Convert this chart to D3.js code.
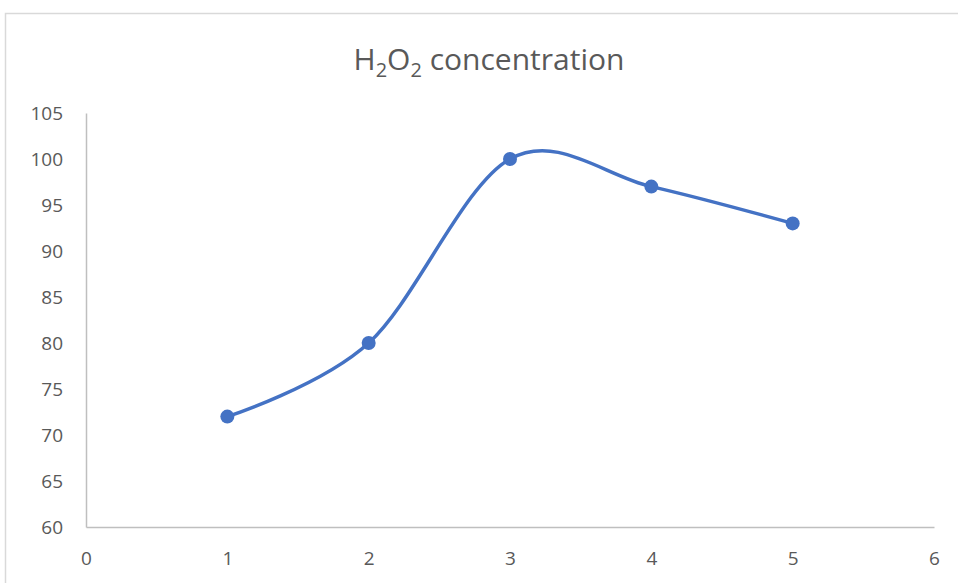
<!DOCTYPE html>
<html>
<head>
<meta charset="utf-8">
<script src="https://cdn.jsdelivr.net/npm/d3@7"></script>
<style>
  body { margin: 0; background: #fff; }
  svg { display: block; font-family: "Open Sans", "Noto Sans", sans-serif; }
</style>
</head>
<body>
<div id="canvas"></div>
<script>
const xValues = [1, 2, 3, 4, 5];
const concentration = [72, 80, 100, 97, 93];
const xTicks = [0, 1, 2, 3, 4, 5, 6];
const yTicks = [60, 65, 70, 75, 80, 85, 90, 95, 100, 105];

const width = 958;
const height = 583;
const margin = { top: 113, left: 86, bottom: 56, right: 24 };
const iwidth = width - margin.left - margin.right;
const iheight = height - margin.top - margin.bottom;

const svg = d3.select("#canvas").append("svg")
    .attr("width", width)
    .attr("height", height);

// outer chart frame (cropped on the right and bottom)
svg.append("rect")
    .attr("x", 5.5).attr("y", 13.5)
    .attr("width", 1000).attr("height", 1000)
    .attr("fill", "none")
    .attr("stroke", "#d9d9d9")
    .attr("stroke-width", 1.5);

svg.append("text")
    .attr("x", 489).attr("y", 70)
    .attr("text-anchor", "middle")
    .attr("fill", "#595959")
    .style("font-size", "30px")
    .html('H<tspan dy="7" font-size="20px">2</tspan><tspan dy="-7">O</tspan><tspan dy="7" font-size="20px">2</tspan><tspan dy="-7"> concentration</tspan>');

const g = svg.append("g").attr("transform", `translate(${margin.left},${margin.top})`);

const x = d3.scaleLinear().domain([0, 6]).range([0, iwidth]);
const y = d3.scaleLinear().domain([60, 105]).range([iheight, 0]);

const xAxis = g.append("g")
    .attr("transform", `translate(0,${iheight})`)
    .call(d3.axisBottom(x).tickValues(xTicks).tickFormat(d3.format("d")).tickSize(0).tickPadding(25));
const yAxis = g.append("g")
    .call(d3.axisLeft(y).tickValues(yTicks).tickFormat(d3.format("d")).tickSize(0).tickPadding(23));

[xAxis, yAxis].forEach(a => {
    a.select(".domain").attr("stroke", "#bfbfbf").attr("stroke-width", 1.5);
    a.selectAll("text").attr("fill", "#595959").style("font-size", "19px")
        .style("font-family", "'Open Sans', 'Noto Sans', sans-serif");
});

const data = xValues.map((v, i) => ({ x: v, y: concentration[i] }));

const line = d3.line()
    .x(d => x(d.x))
    .y(d => y(d.y))
    .curve(d3.curveCardinal.tension(0));

g.append("path")
    .datum(data)
    .attr("fill", "none")
    .attr("stroke", "#4472c4")
    .attr("stroke-width", 3.5)
    .attr("d", line);

g.selectAll("circle").data(data).enter().append("circle")
    .attr("cx", d => x(d.x))
    .attr("cy", d => y(d.y))
    .attr("r", 7)
    .attr("fill", "#4472c4");
</script>
</body>
</html>
